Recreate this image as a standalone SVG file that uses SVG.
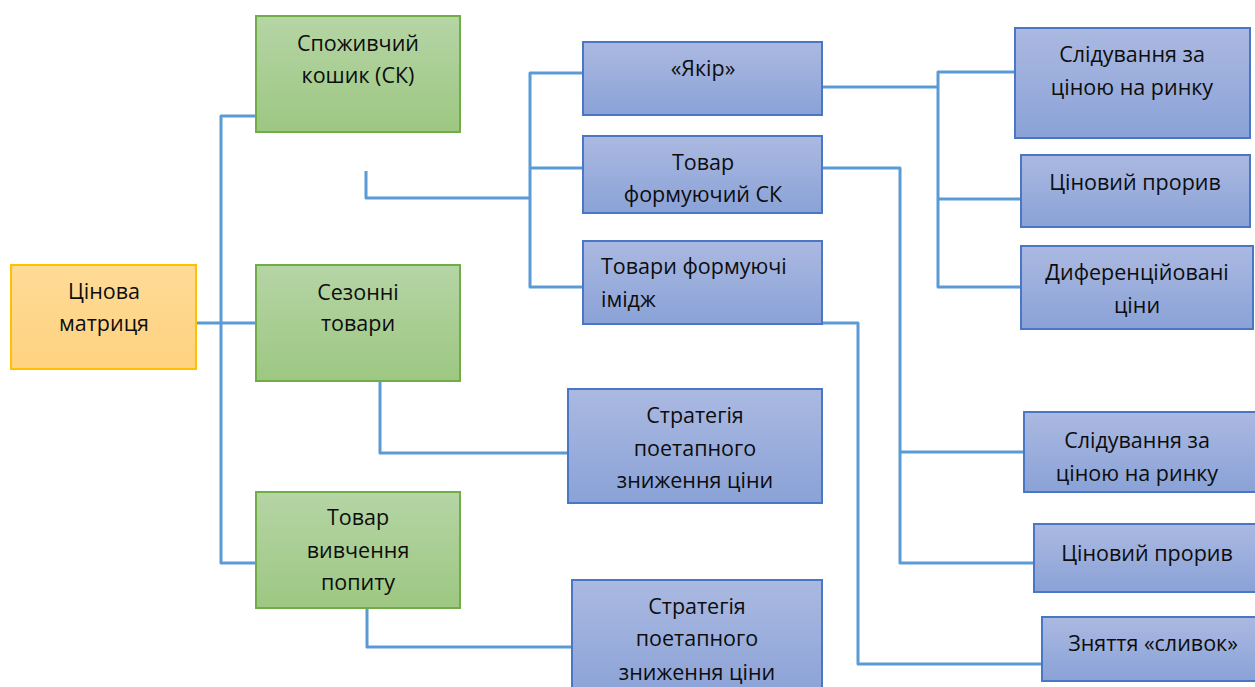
<svg xmlns="http://www.w3.org/2000/svg" width="1255" height="687" viewBox="0 0 1255 687">
<defs>
<linearGradient id="gG" x1="0" y1="0" x2="0" y2="1"><stop offset="0" stop-color="#b5d5a5"/><stop offset="1" stop-color="#9dc782"/></linearGradient>
<linearGradient id="gB" x1="0" y1="0" x2="0" y2="1"><stop offset="0" stop-color="#abb9e1"/><stop offset="1" stop-color="#8aa2d7"/></linearGradient>
<linearGradient id="gO" x1="0" y1="0" x2="0" y2="1"><stop offset="0" stop-color="#ffdb97"/><stop offset="1" stop-color="#fed27f"/></linearGradient>
</defs>
<style>
.g{fill:url(#gG);stroke:#70ad47;stroke-width:2}
.b{fill:url(#gB);stroke:#4a76c6;stroke-width:2}
.o{fill:url(#gO);stroke:#ffc000;stroke-width:2}
text{font-family:"Open Sans","Noto Sans",sans-serif;font-size:21.5px;fill:#0d0d0d;text-anchor:middle}
.l{text-anchor:start}
#connectors path{fill:none;stroke:#5b9bd5;stroke-width:3;stroke-linejoin:round}
</style>
<g id="connectors">
<path d="M256,116 H221 V563 H256"/>
<path d="M196,323 H256"/>
<path d="M380,381 V453 H568"/>
<path d="M367,608 V647 H572"/>
<path d="M366,171 V198 H530"/>
<path d="M583,73 H530 V287 H583"/>
<path d="M530,168 H583"/>
<path d="M822,87 H938"/>
<path d="M1015,72 H938 V287 H1021"/>
<path d="M938,199 H1021"/>
<path d="M822,168 H900 V563 H1034"/>
<path d="M900,452 H1024"/>
<path d="M822,323 H858 V664 H1042"/>
</g>
<g id="n-matrix"><rect class="o" x="11" y="265" width="185" height="104"/><text x="104" y="299">Цінова</text><text x="104" y="331">матриця</text></g>
<g id="n-basket"><rect class="g" x="256" y="16" width="204" height="116"/><text x="358" y="51">Споживчий</text><text x="358" y="83">кошик (СК)</text></g>
<g id="n-season"><rect class="g" x="256" y="265" width="204" height="116"/><text x="358" y="300">Сезонні</text><text x="358" y="331">товари</text></g>
<g id="n-demand"><rect class="g" x="256" y="492" width="204" height="116"/><text x="358" y="525">Товар</text><text x="358" y="558">вивчення</text><text x="358" y="590">попиту</text></g>
<g id="n-anchor"><rect class="b" x="583" y="42" width="239" height="73"/><text x="703" y="76">«Якір»</text></g>
<g id="n-form-sk"><rect class="b" x="583" y="136" width="239" height="77"/><text x="703" y="170">Товар</text><text x="703" y="202">формуючий СК</text></g>
<g id="n-image"><rect class="b" x="583" y="241" width="239" height="83"/><text class="l" x="601" y="274">Товари формуючі</text><text class="l" x="601" y="307">імідж</text></g>
<g id="n-follow1"><rect class="b" x="1015" y="28" width="235" height="110"/><text x="1132" y="62">Слідування за</text><text x="1132" y="95">ціною на ринку</text></g>
<g id="n-break1"><rect class="b" x="1021" y="155" width="229" height="72"/><text x="1135" y="190">Ціновий прорив</text></g>
<g id="n-diff"><rect class="b" x="1021" y="246" width="232" height="83"/><text x="1137" y="280">Диференційовані</text><text x="1137" y="313">ціни</text></g>
<g id="n-strat1"><rect class="b" x="568" y="389" width="254" height="114"/><text x="695" y="423">Стратегія</text><text x="695" y="456">поетапного</text><text x="695" y="488">зниження ціни</text></g>
<g id="n-strat2"><rect class="b" x="572" y="580" width="250" height="120"/><text x="697" y="614">Стратегія</text><text x="697" y="646">поетапного</text><text x="697" y="680">зниження ціни</text></g>
<g id="n-follow2"><rect class="b" x="1024" y="412" width="240" height="80"/><text x="1137" y="448">Слідування за</text><text x="1137" y="481">ціною на ринку</text></g>
<g id="n-break2"><rect class="b" x="1034" y="524" width="230" height="68"/><text x="1147" y="561">Ціновий прорив</text></g>
<g id="n-skim"><rect class="b" x="1042" y="617" width="222" height="64"/><text x="1153" y="651">Зняття «сливок»</text></g>
</svg>
